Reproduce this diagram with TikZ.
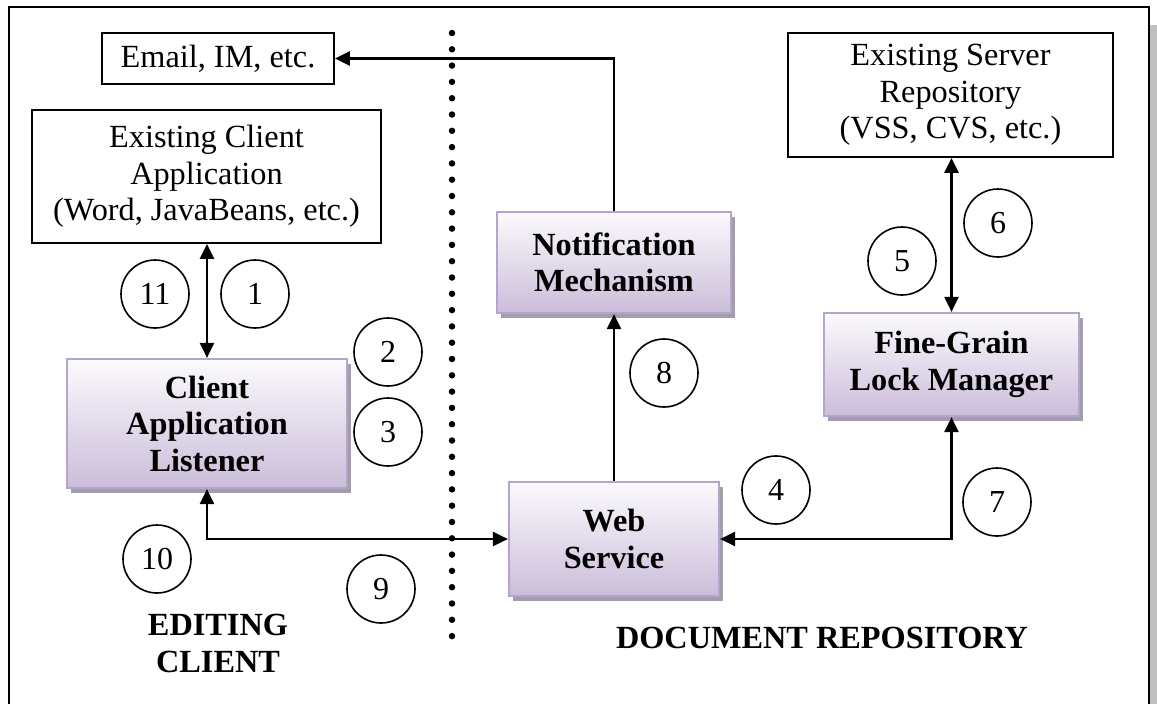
\documentclass[tikz,border=0pt]{standalone}
\usepackage{fontspec}
\setmainfont{Liberation Serif}
\usetikzlibrary{arrows.meta,shadows}

\definecolor{boxtop}{HTML}{FBFAFD}
\definecolor{boxbot}{HTML}{CBBDDA}
\definecolor{boxline}{HTML}{B5A5CC}
\definecolor{boxshade}{HTML}{A29CAB}
\definecolor{frameshade}{HTML}{C0C0C0}

\tikzset{
  plainbox/.style={draw=black, line width=1.8pt, fill=white, inner sep=0pt,
    align=center, font=\fontsize{32.3}{36.5}\selectfont},
  procbox/.style={draw=boxline, line width=2.2pt, top color=boxtop, bottom color=boxbot,
    inner sep=0pt, align=center, font=\fontsize{32.3}{36.5}\selectfont\bfseries,
    drop shadow={shadow xshift=4pt, shadow yshift=-5pt, fill=boxshade, opacity=1}},
  stepnum/.style={circle, draw=black, line width=1.6pt, minimum size=68pt, inner sep=0pt,
    font=\fontsize{32}{36}\selectfont},
  region/.style={align=center, font=\fontsize{32.3}{37}\selectfont\bfseries},
  link/.style={line width=2.4pt},
  tip/.style={-{Triangle[length=15pt,width=14pt]}},
  biway/.style={{Triangle[length=15pt,width=14pt]}-{Triangle[length=15pt,width=14pt]}},
}

\begin{document}
\begin{tikzpicture}[x=1pt, y=-1pt]
  \useasboundingbox (0,0) rectangle (1157,704);

  % outer frame with its shadow
  \fill[frameshade] (17,25) rectangle (1157,720);
  \draw[line width=2.2pt, fill=white] (9,7) rectangle (1149,712);

  % boundary between client and repository
  \coordinate (sepTop) at (452,33);
  \coordinate (sepBot) at (452,652);
  \draw[line width=6.5pt, line cap=round, dash pattern=on 0pt off 16.3pt] (sepTop) -- (sepBot);

  % external systems
  \node[plainbox, minimum width=232pt, minimum height=51pt] (em) at (218,58.5) {Email, IM, etc.};
  \node[plainbox, minimum width=349pt, minimum height=133pt] (eca) at (206.5,176.5)
    {Existing Client\\Application\\(Word, JavaBeans, etc.)};
  \node[plainbox, minimum width=325pt, minimum height=124pt] (srv) at (950.5,95)
    {Existing Server\\Repository\\(VSS, CVS, etc.)};

  % components
  \node[procbox, minimum width=234pt, minimum height=101pt] (nm) at (614,262.5)
    {Notification\\Mechanism};
  \node[procbox, minimum width=255pt, minimum height=103pt] (fg) at (951.5,364.5)
    {Fine-Grain\\Lock Manager};
  \node[procbox, minimum width=280pt, minimum height=129pt] (cal) at (207,423.5)
    {Client\\Application\\Listener};
  \node[procbox, minimum width=210pt, minimum height=114pt] (ws) at (614,539)
    {Web\\Service};

  % connectors
  \draw[link, biway] (cal.north |- eca.south) -- (cal.north);
  \draw[link, biway] (cal.south) |- (ws.west);
  \draw[link, biway] (ws.east) -| (fg.south);
  \draw[link, biway] (fg.north |- srv.south) -- (fg.north);
  \draw[link, tip] (ws.north) -- (nm.south);
  \draw[link, tip] (nm.north) |- (em.east);

  % step numbers
  \node[stepnum] (s1) at (255,294) {1};
  \node[stepnum] (s2) at (388,352) {2};
  \node[stepnum] (s3) at (388,432) {3};
  \node[stepnum] (s4) at (776,490) {4};
  \node[stepnum] (s5) at (902,261) {5};
  \node[stepnum] (s6) at (998,223) {6};
  \node[stepnum] (s7) at (997,502) {7};
  \node[stepnum] (s8) at (664,373) {8};
  \node[stepnum] (s9) at (381,589) {9};
  \node[stepnum] (s10) at (157,559) {10};
  \node[stepnum] (s11) at (155,294) {11};

  % region labels
  \node[region] (lclient) at (218,643) {EDITING\\CLIENT};
  \node[region] (lrepo) at (822,638) {DOCUMENT REPOSITORY};
\end{tikzpicture}
\end{document}
